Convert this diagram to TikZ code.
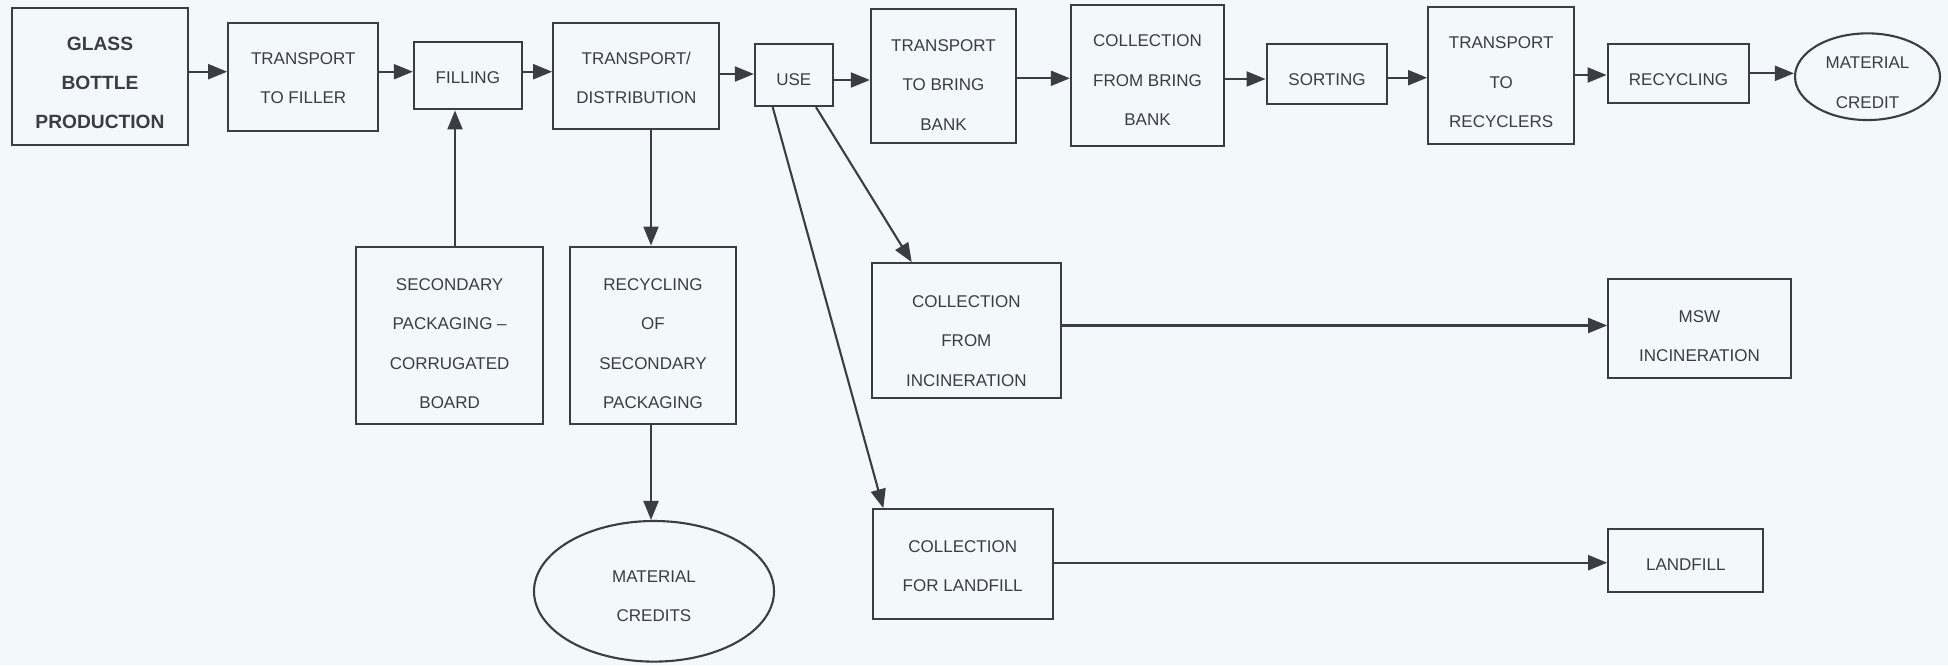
\documentclass[tikz,border=0pt]{standalone}
\usepackage{fontspec}
\setmainfont{Liberation Sans}
\usetikzlibrary{arrows.meta,shapes.geometric}
\definecolor{bg}{HTML}{F3F8FA}
\definecolor{ink}{HTML}{3A3E43}
\begin{document}
\begin{tikzpicture}[x=1pt,y=-1pt,
  box/.style={draw=ink,line width=2.3pt,inner sep=0pt,rectangle},
  oval/.style={draw=ink,line width=2.1pt,ellipse,inner sep=0pt},
  lbl/.style={text=ink,align=center,inner sep=0pt,font=\fontsize{17}{39.5}\selectfont},
  blbl/.style={text=ink,align=center,inner sep=0pt,font=\fontsize{19.2}{38.7}\selectfont\bfseries},
  arr/.style={draw=ink,line width=2.1pt,-{Triangle[length=19pt,width=15pt]}},
  ln/.style={draw=ink,line width=2.1pt}]
\fill[bg] (0,0) rectangle (1948,665);
\useasboundingbox (0,0) rectangle (1948,665);

% top row boxes
\node[box,minimum width=176.6pt,minimum height=136.7pt] (glass) at (100,76.65) {};
\node[box,minimum width=150pt,minimum height=108.3pt] (ttf) at (303.3,76.85) {};
\node[box,minimum width=107.7pt,minimum height=67.6pt] (fill) at (467.85,75.5) {};
\node[box,minimum width=166pt,minimum height=106.6pt] (td) at (636.3,76) {};
\node[box,minimum width=77.7pt,minimum height=61.7pt] (use) at (793.85,75.15) {};
\node[box,minimum width=145pt,minimum height=133.4pt] (ttbb) at (943.5,76) {};
\node[box,minimum width=153pt,minimum height=141pt] (cfbb) at (1147.5,75.5) {};
\node[box,minimum width=120.6pt,minimum height=60pt] (sort) at (1327,74.3) {};
\node[box,minimum width=145.7pt,minimum height=136.7pt] (ttr) at (1501.15,75.65) {};
\node[box,minimum width=141.6pt,minimum height=58.4pt] (recy) at (1678.5,73.5) {};
\node[oval,minimum width=145pt,minimum height=86.7pt] (mc) at (1867.5,76.7) {};

% lower boxes
\node[box,minimum width=187.3pt,minimum height=177.3pt] (sp) at (449.65,335.35) {};
\node[box,minimum width=166pt,minimum height=177.3pt] (rsp) at (653,335.35) {};
\node[oval,minimum width=240pt,minimum height=140.6pt] (mc2) at (654,591.3) {};
\node[box,minimum width=189.3pt,minimum height=134.4pt] (cfi) at (966.35,330.5) {};
\node[box,minimum width=180pt,minimum height=110pt] (cfl) at (962.7,564.3) {};
\node[box,minimum width=182.4pt,minimum height=99.3pt] (msw) at (1699.5,328.65) {};
\node[box,minimum width=155pt,minimum height=62.4pt] (lf) at (1685.8,560.5) {};

% labels
\node[blbl] (tglass) at (100,83) {GLASS\\BOTTLE\\PRODUCTION};
\node[lbl] (tttf) at (303.3,78) {TRANSPORT\\TO FILLER};
\node[lbl] (tfill) at (467.85,77.3) {FILLING};
\node[lbl] (ttd) at (636.3,78) {TRANSPORT/\\DISTRIBUTION};
\node[lbl] (tuse) at (793.85,80) {USE};
\node[lbl] (tttbb) at (943.5,85) {TRANSPORT\\TO BRING\\BANK};
\node[lbl] (tcfbb) at (1147.5,80.5) {COLLECTION\\FROM BRING\\BANK};
\node[lbl] (tsort) at (1327,79.3) {SORTING};
\node[lbl] (tttr) at (1501.15,82.5) {TRANSPORT\\TO\\RECYCLERS};
\node[lbl] (trecy) at (1678.5,79.3) {RECYCLING};
\node[lbl] (tmc) at (1867.5,82.5) {MATERIAL\\CREDIT};
\node[lbl] (tsp) at (449.65,343.7) {SECONDARY\\PACKAGING –\\CORRUGATED\\BOARD};
\node[lbl] (trsp) at (653,343.7) {RECYCLING\\OF\\SECONDARY\\PACKAGING};
\node[lbl] (tmc2) at (654,596) {MATERIAL\\CREDITS};
\node[lbl] (tcfi) at (966.35,340.7) {COLLECTION\\FROM\\INCINERATION};
\node[lbl] (tcfl) at (962.7,566.3) {COLLECTION\\FOR LANDFILL};
\node[lbl] (tmsw) at (1699.5,336) {MSW\\INCINERATION};
\node[lbl] (tlf) at (1685.8,565) {LANDFILL};

% connectors, top row
\draw[arr] (glass.east |- 0,71.7) -- (ttf.west |- 0,71.7);
\draw[arr] (ttf.east |- 0,71.7) -- (fill.west |- 0,71.7);
\draw[arr] (fill.east |- 0,71.7) -- (td.west |- 0,71.7);
\draw[arr] (td.east |- 0,74) -- (use.west |- 0,74);
\draw[arr] (use.east |- 0,80) -- (ttbb.west |- 0,80);
\draw[arr] (ttbb.east |- 0,78.3) -- (cfbb.west |- 0,78.3);
\draw[arr] (cfbb.east |- 0,79) -- (sort.west |- 0,79);
\draw[arr] (sort.east |- 0,77.7) -- (ttr.west |- 0,77.7);
\draw[arr] (ttr.east |- 0,75) -- (recy.west |- 0,75);
\draw[arr] (recy.east |- 0,73.3) -- (mc.west |- 0,73.3);

% vertical connectors
\draw[arr] (sp.north -| 455,0) -- (fill.south -| 455,0);
\draw[arr] (td.south -| 651,0) -- (rsp.north -| 651,0);
\draw[arr] (rsp.south -| 651,0) -- (mc2.north -| 651,0);

% from USE
\draw[arr] ([xshift=22.15pt]use.south) -- ([xshift=-54.65pt]cfi.north);
\draw[arr] ([xshift=-21.15pt]use.south) -- ([xshift=-79.4pt]cfl.north);

% disposal
\draw[arr] (cfi.east |- 0,325.5) -- (msw.west |- 0,325.5);
\draw[arr] (cfl.east |- 0,562.7) -- (lf.west |- 0,562.7);
\end{tikzpicture}
\end{document}
